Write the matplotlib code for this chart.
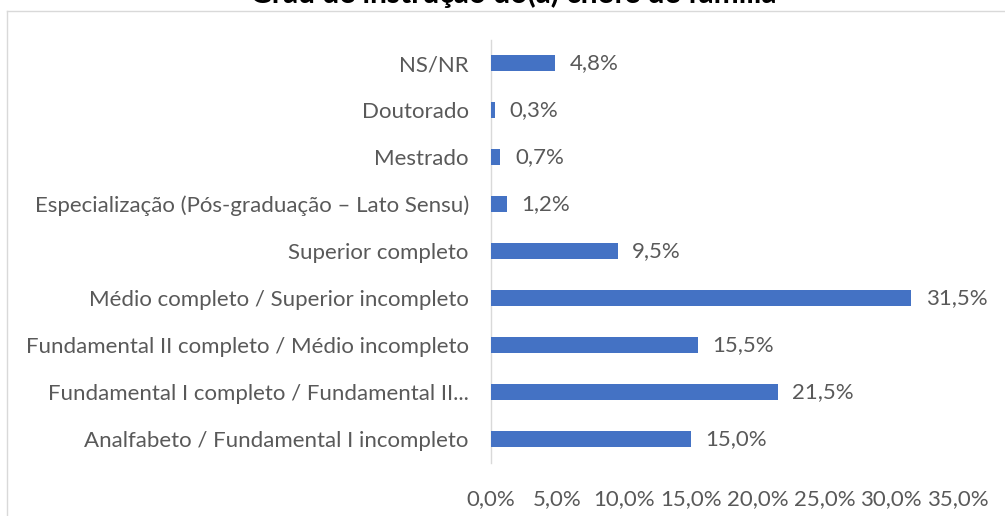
import numpy as np
import matplotlib
matplotlib.use("Agg")
import matplotlib.pyplot as plt
from matplotlib.lines import Line2D

plt.rcParams["font.family"] = ["Lato", "DejaVu Sans"]

TITLE = "Grau de instrução do(a) chefe de família"
categories = [
    "Analfabeto / Fundamental I incompleto",
    "Fundamental I completo / Fundamental II...",
    "Fundamental II completo / Médio incompleto",
    "Médio completo / Superior incompleto",
    "Superior completo",
    "Especialização (Pós-graduação – Lato Sensu)",
    "Mestrado",
    "Doutorado",
    "NS/NR",
]
values = [15.0, 21.5, 15.5, 31.5, 9.5, 1.2, 0.7, 0.3, 4.8]
xticks = [0, 5, 10, 15, 20, 25, 30, 35]

W, H = 1005, 516
BAR = "#4472c4"
GREY = "#595959"
FS = 16

fig = plt.figure(figsize=(W / 100, H / 100), dpi=100)
fig.patch.set_facecolor("white")

# chart frame (only top and left visible in the crop)
fig.add_artist(Line2D([7 / W, 7 / W], [0, 1 - 11 / H], color="#d9d9d9", lw=1))
fig.add_artist(Line2D([7 / W, 1], [1 - 11 / H, 1 - 11 / H], color="#d9d9d9", lw=1))

ax = fig.add_axes([491 / W, 1 - 462.5 / H, (957.7 - 491) / W, (462.5 - 39.5) / H])
y = np.arange(len(categories))
ax.barh(y, values, height=0.36, color=BAR, zorder=3)
ax.set_xlim(0, 35)
ax.set_ylim(-0.5, len(categories) - 0.5)

ax.set_yticks(y)
ax.set_yticklabels(categories, fontsize=FS, color=GREY)
ax.set_xticks(xticks)
ax.set_xticklabels([f"{t:.1f}%".replace(".", ",") for t in xticks], fontsize=FS, color=GREY)
ax.tick_params(axis="y", length=0, pad=16)
ax.tick_params(axis="x", length=0, pad=19)

for s in ["top", "right", "bottom"]:
    ax.spines[s].set_visible(False)
ax.spines["left"].set_color("#d9d9d9")
ax.spines["left"].set_linewidth(1)

for yi, v in zip(y, values):
    ax.annotate(f"{v:.1f}%".replace(".", ","), xy=(v, yi), xytext=(10.5, 0),
                textcoords="offset points", va="center", ha="left",
                fontsize=FS, color=GREY)

fig.text(513 / W, 1 - 8 / H, TITLE, ha="center", va="bottom",
         fontsize=21.5, fontweight="bold", color="black")

fig.savefig("out.png", dpi=100)
